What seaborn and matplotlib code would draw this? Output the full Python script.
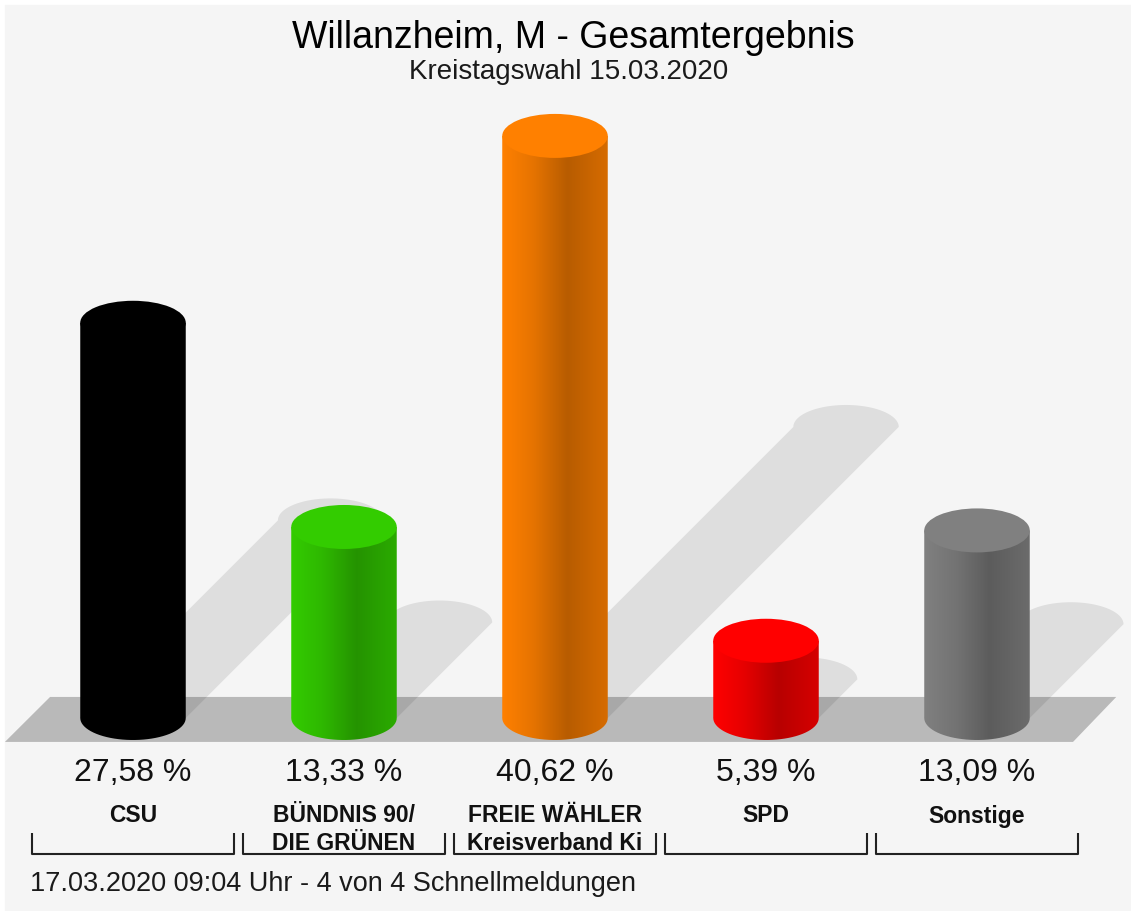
import numpy as np
import pandas as pd
import matplotlib.pyplot as plt
import matplotlib.transforms as mtransforms
from matplotlib.patches import Ellipse, Polygon, Rectangle
from matplotlib.colors import to_rgb
import seaborn as sns

# --- data ---
parties = ["CSU", "BÜNDNIS 90/\nDIE GRÜNEN", "FREIE WÄHLER\nKreisverband Ki", "SPD", "Sonstige"]
shares = [27.58, 13.33, 40.62, 5.39, 13.09]
colors = ["#000000", "#33cc00", "#ff8000", "#ff0000", "#808080"]

title = "Willanzheim, M - Gesamtergebnis"
subtitle = "Kreistagswahl 15.03.2020"
footer = "17.03.2020 09:04 Uhr - 4 von 4 Schnellmeldungen"

# --- layout (pixels of the 1131x911 picture) ---
W, H = 1131, 911
BASE_PX = 718        # row of the 0 % line
PX_PER_PCT = 14.33
STEP_PX = 211        # distance between two bars
FIRST_PX = 133       # centre of the first bar
RY = 22 / PX_PER_PCT # half height of the cylinder ellipses, in %

df = pd.DataFrame({"partei": parties, "anteil": shares})

sns.set_theme(style="white")
plt.rcParams["font.family"] = ["Liberation Sans", "DejaVu Sans"]

fig = plt.figure(figsize=(W / 100, H / 100), dpi=100, facecolor="white")
fig.add_artist(Rectangle((5 / W, 0), 1, 1 - 5 / H, transform=fig.transFigure,
                         color="#f5f5f5", zorder=-10))
ax = fig.add_axes([0, 0, 1, 1])
ax.set_facecolor("none")

sns.barplot(data=df, x="partei", y="anteil", hue="partei", palette=colors,
            width=0.5, saturation=1, legend=False, ax=ax)
bars = list(ax.patches)
n = len(bars)

xmin, xmax = -FIRST_PX / STEP_PX, (W - FIRST_PX) / STEP_PX
ymin, ymax = (BASE_PX - H) / PX_PER_PCT, BASE_PX / PX_PER_PCT

def fy(py):
    return 1 - py / H

# floor band
floor = Polygon([(-0.607, -1.67), (-0.393, 1.47), (n - 1 + 0.66, 1.47), (n - 1 + 0.455, -1.67)],
                closed=True, facecolor="black", alpha=0.245, edgecolor="none", zorder=1)
ax.add_patch(floor)

# shadows going up to the right, half the bar height
shift = 0.5 * PX_PER_PCT / STEP_PX
th = np.linspace(0, np.pi, 40)
for bar in bars:
    x0, w, v = bar.get_x(), bar.get_width(), bar.get_height()
    dx, top = v * shift, v / 2
    cx = x0 + w / 2 + dx
    arc = np.column_stack([cx + w / 2 * np.cos(th), top + RY * np.sin(th)])
    pts = np.vstack([[x0, 0], [x0 + w, 0], arc, [x0 + dx, top]])
    ax.add_patch(Polygon(pts, closed=True, facecolor="black", alpha=0.09,
                         edgecolor="none", zorder=2))

# cylinders: body with horizontal shading, rounded bottom and flat top ellipse
knots_t = [0, 0.3, 0.62, 1.0]
knots_f = [1.0, 0.9, 0.72, 0.84]
tt = np.linspace(0, 1, 200)
shade = np.interp(tt, knots_t, knots_f)
for bar, col in zip(bars, colors):
    x0, w, v = bar.get_x(), bar.get_width(), bar.get_height()
    rgb = np.array(to_rgb(col))
    img = (shade[:, None] * rgb[None, :])[None, :, :]
    outline = np.vstack([[x0, v], [x0, 0],
                         np.column_stack([x0 + w / 2 - w / 2 * np.cos(th), -RY * np.sin(th)]),
                         [x0 + w, 0], [x0 + w, v]])
    body = Polygon(outline, closed=True, facecolor="none", edgecolor="none", zorder=3)
    ax.add_patch(body)
    im = ax.imshow(img, extent=[x0, x0 + w, -RY, v], aspect="auto",
                   interpolation="bilinear", zorder=3)
    im.set_clip_path(body)
    bar.set_visible(False)
    ax.add_patch(Ellipse((x0 + w / 2, v), w, 2 * RY, facecolor=col,
                         edgecolor="none", zorder=4))

ax.set_xlim(xmin, xmax)
ax.set_ylim(ymin, ymax)
ax.set_axis_off()

# texts
trans = mtransforms.blended_transform_factory(ax.transData, ax.transAxes)
fig.text(573 / W, fy(38), title, ha="center", va="center", fontsize=27, color="#000000")
fig.text(569 / W, fy(72), subtitle, ha="center", va="center", fontsize=20, color="#1a1a1a")

half = 101 / STEP_PX
for i, (name, v) in enumerate(zip(parties, shares)):
    label = f"{v:.2f}".replace(".", ",") + " %"
    ax.text(i, fy(773), label, transform=trans, ha="center", va="center",
            fontsize=23, color="#111111")
    for k, line in enumerate(name.split("\n")):
        ax.text(i, fy(816 + 27 * k), line, transform=trans, ha="center", va="center",
                fontsize=16.5, fontweight="bold", color="#111111")
    ax.plot([i - half, i - half, i + half, i + half], [fy(833), fy(854), fy(854), fy(833)],
            transform=trans, color="#222222", lw=1.5, solid_capstyle="butt")

fig.text(30 / W, fy(884), footer, ha="left", va="center", fontsize=19.5, color="#1a1a1a")

fig.savefig("out.png", dpi=100, facecolor=fig.get_facecolor())
